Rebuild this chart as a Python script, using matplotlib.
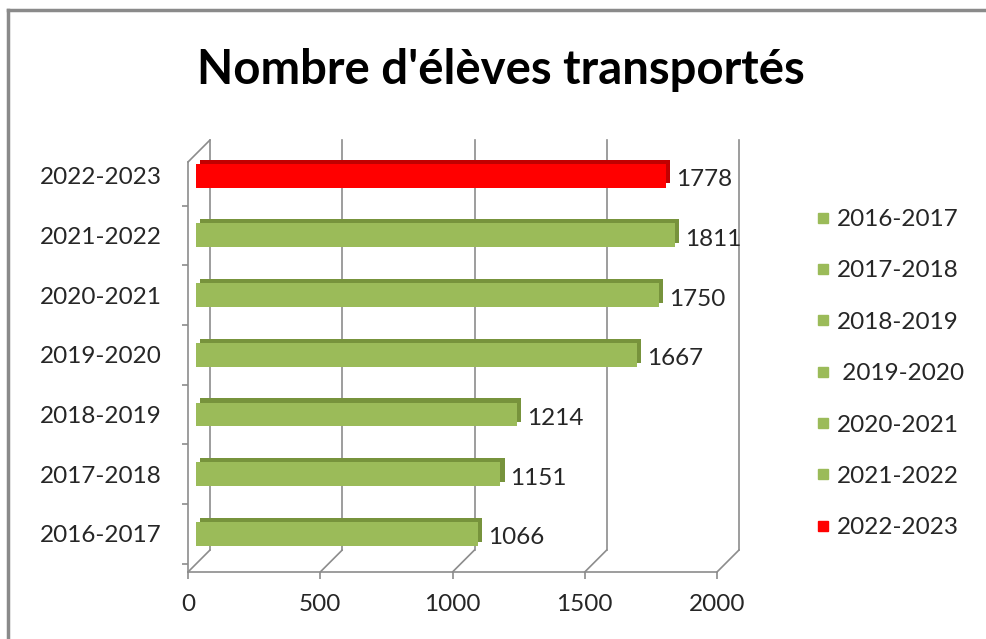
import matplotlib
matplotlib.use('Agg')
import matplotlib.pyplot as plt
import matplotlib.transforms as mtransforms
import matplotlib.patheffects as pe
from matplotlib.lines import Line2D

plt.rcParams['font.family'] = ['Lato', 'DejaVu Sans']

# donnees
annees = ['2016-2017', '2017-2018', '2018-2019', '2019-2020',
          '2020-2021', '2021-2022', '2022-2023']
eleves = [1066, 1151, 1214, 1667, 1750, 1811, 1778]
legende = ['2016-2017', '2017-2018', '2018-2019', ' 2019-2020',
           '2020-2021', '2021-2022', '2022-2023']
xticks = [0, 500, 1000, 1500, 2000]

vert, vert_fonce = '#9BBB59', '#77933C'
rouge, rouge_fonce = '#FF0000', '#C00000'
gris = '#8C8C8C'
texte = '#262626'

fig = plt.figure(figsize=(9.86, 6.39), dpi=100)
ax = fig.add_axes([188 / 986, 67 / 639, 529 / 986, 410 / 639])

ybas, yhaut = -0.64, 6.23
ax.set_xlim(0, 2000)
ax.set_ylim(ybas, yhaut)

# decalage du plan arriere (effet 3D)
fond = ax.transData + mtransforms.ScaledTranslation(0.22, 0.22, fig.dpi_scale_trans)
face = ax.transData + mtransforms.ScaledTranslation(0.08, 0, fig.dpi_scale_trans)

for v in xticks:
    ax.plot([v, v], [ybas, yhaut], color=gris, lw=1.2, transform=fond, clip_on=False, zorder=1)
    ax.annotate('', xy=(v, ybas), xytext=(22, 22), textcoords='offset pixels',
                arrowprops=dict(arrowstyle='-', color=gris, lw=1.2, shrinkA=0, shrinkB=0),
                annotation_clip=False)
ax.annotate('', xy=(0, yhaut), xytext=(22, 22), textcoords='offset pixels',
            arrowprops=dict(arrowstyle='-', color=gris, lw=1.2, shrinkA=0, shrinkB=0),
            annotation_clip=False)

n = len(annees)
for i, (a, e) in enumerate(zip(annees, eleves)):
    dernier = i == n - 1
    c = rouge if dernier else vert
    cf = rouge_fonce if dernier else vert_fonce
    b = ax.barh(i, e, height=0.4, color=c, transform=face, zorder=3, clip_on=False)
    for p in b:
        p.set_path_effects([pe.SimplePatchShadow(offset=(3, 3), shadow_rgbFace=cf, alpha=1),
                            pe.Normal()])
    ax.annotate(str(e), xy=(e, i), xytext=(18, -4), textcoords='offset pixels',
                ha='left', va='center', fontsize=17.5, color=texte, annotation_clip=False)

for s in ['top', 'right']:
    ax.spines[s].set_visible(False)
for s in ['left', 'bottom']:
    ax.spines[s].set_color(gris)
    ax.spines[s].set_linewidth(1.2)

ax.set_yticks(range(n))
ax.set_yticklabels(annees, fontsize=17.5, color=texte)
ax.set_yticks([i + 0.5 for i in range(-1, n - 1)], minor=True)
ax.tick_params(axis='y', which='major', length=0, pad=19)
ax.tick_params(axis='y', which='minor', length=4, color=gris, width=1.2)
ax.set_xticks(xticks)
ax.set_xticklabels([str(v) for v in xticks], fontsize=17.5, color=texte)
ax.tick_params(axis='x', length=5, color=gris, width=1.2, pad=11)

fig.suptitle("Nombre d'élèves transportés", x=501 / 986, y=1 - 70 / 639, va='center',
             fontsize=34, fontweight='bold', color='black')

poignees = [Line2D([], [], marker='s', ls='none', markersize=7,
                   color=(rouge if i == n - 1 else vert)) for i in range(n)]
leg = fig.legend(poignees, legende, loc='upper left', bbox_to_anchor=(817 / 986, 1 - 209 / 639),
                 frameon=False, fontsize=17.5, labelspacing=1.25, handlelength=0.5,
                 handletextpad=0.3, borderpad=0, borderaxespad=0)
for t in leg.get_texts():
    t.set_color(texte)

# cadre du graphique
fig.add_artist(Line2D([8 / 986, 8 / 986], [0, 1 - 10 / 639], color='#8A8A8A', lw=2.5))
fig.add_artist(Line2D([8 / 986, 1], [1 - 10 / 639, 1 - 10 / 639], color='#8A8A8A', lw=2.5))

fig.savefig('out.png', dpi=100)
